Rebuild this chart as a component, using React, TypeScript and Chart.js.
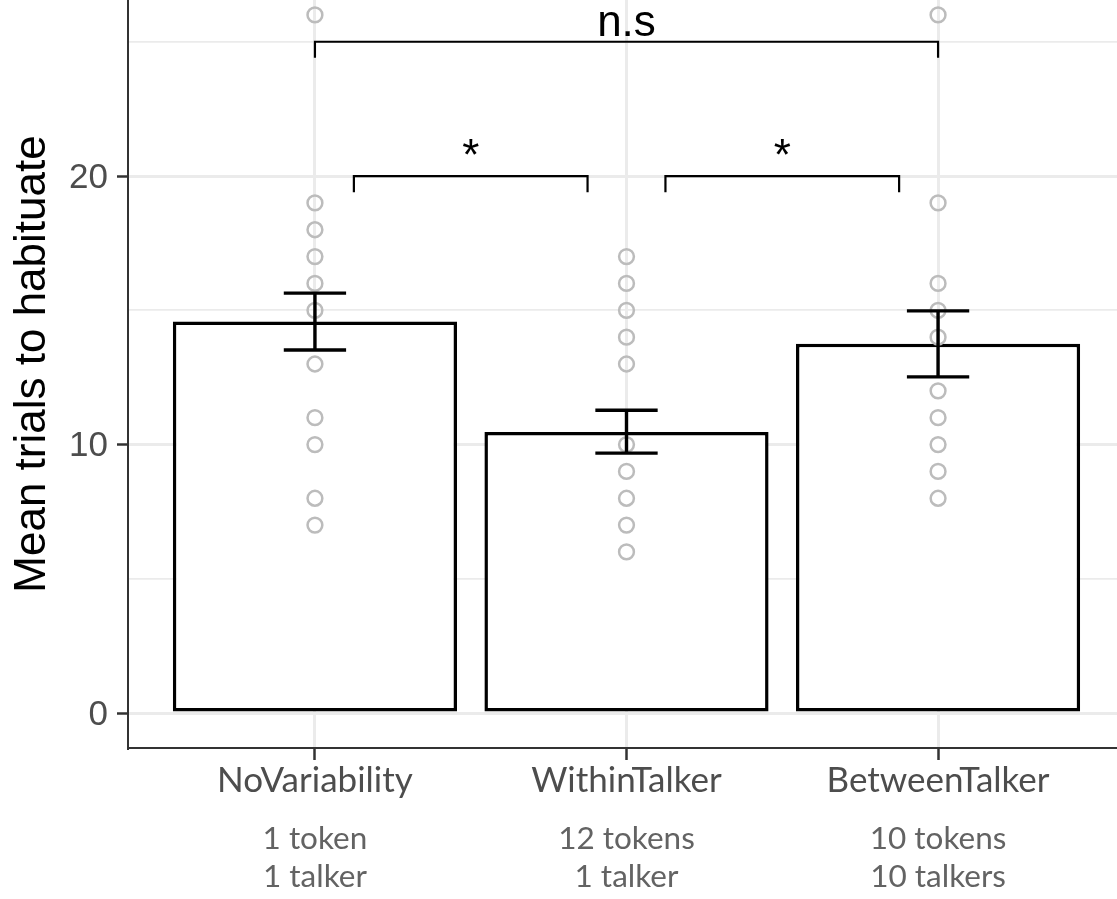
import React, { useEffect, useRef } from "react";
import { Chart, registerables } from "chart.js";

Chart.register(...registerables);

// ---- data ----
const categories = ["NoVariability", "WithinTalker", "BetweenTalker"];
const conditionDetails = [
  ["1 token", "1 talker"],
  ["12 tokens", "1 talker"],
  ["10 tokens", "10 talkers"],
];
const meanTrials = [14.58, 10.47, 13.75];
const errorLow = [13.52, 9.68, 12.52];
const errorHigh = [15.64, 11.28, 14.98];
const noVariabilityTrials = [26, 19, 18, 17, 16, 15, 13, 11, 10, 8, 7];
const withinTalkerTrials = [17, 16, 15, 14, 13, 10, 9, 8, 7, 6];
const betweenTalkerTrials = [26, 19, 16, 15, 14, 12, 11, 10, 9, 8];
const yTickValues = [0, 5, 10, 15, 20, 25];
const bracketStart = [0, 0.125, 1.125];
const bracketEnd = [2, 0.875, 1.875];
const bracketHeight = [25, 20, 20];
const bracketLabels = ["n.s", "*", "*"];
const tipLength = 0.6;
const errorCapHalfWidth = 0.1;

const CANVAS_W = 1140;
const CANVAS_H = 919;

const annotationsPlugin = {
  id: "annotations",
  afterDatasetsDraw(chart: any) {
    const { ctx } = chart;
    const x = chart.scales.x;
    const y = chart.scales.y;
    ctx.save();
    ctx.strokeStyle = "#000000";
    ctx.lineCap = "butt";
    ctx.lineWidth = 3.4;
    meanTrials.forEach((_, i) => {
      const cx = x.getPixelForValue(i);
      const x0 = x.getPixelForValue(i - errorCapHalfWidth);
      const x1 = x.getPixelForValue(i + errorCapHalfWidth);
      const yl = y.getPixelForValue(errorLow[i]);
      const yh = y.getPixelForValue(errorHigh[i]);
      ctx.beginPath();
      ctx.moveTo(cx, yl);
      ctx.lineTo(cx, yh);
      ctx.moveTo(x0, yl);
      ctx.lineTo(x1, yl);
      ctx.moveTo(x0, yh);
      ctx.lineTo(x1, yh);
      ctx.stroke();
    });
    ctx.lineWidth = 2.2;
    ctx.lineJoin = "miter";
    ctx.fillStyle = "#000000";
    ctx.font = '44px "Liberation Sans", Arial, sans-serif';
    ctx.textAlign = "center";
    ctx.textBaseline = "alphabetic";
    bracketLabels.forEach((label, i) => {
      const xa = x.getPixelForValue(bracketStart[i]);
      const xb = x.getPixelForValue(bracketEnd[i]);
      const yb = y.getPixelForValue(bracketHeight[i]);
      const yt = y.getPixelForValue(bracketHeight[i] - tipLength);
      ctx.beginPath();
      ctx.moveTo(xa, yt);
      ctx.lineTo(xa, yb);
      ctx.lineTo(xb, yb);
      ctx.lineTo(xb, yt);
      ctx.stroke();
      ctx.fillText(label, (xa + xb) / 2, yb - 6);
    });
    ctx.restore();
  },
};

const categoryTicks = (scale: any) => {
  scale.ticks = categories.map((_, i) => ({ value: i }));
};

export default function App() {
  const canvasRef = useRef<HTMLCanvasElement | null>(null);

  useEffect(() => {
    if (!canvasRef.current) return;
    const points = [noVariabilityTrials, withinTalkerTrials, betweenTalkerTrials].flatMap(
      (arr, i) => arr.map((v) => ({ x: i, y: v }))
    );
    const chart = new Chart(canvasRef.current, {
      type: "bar",
      data: {
        datasets: [
          {
            type: "bar",
            data: meanTrials.map((v, i) => ({ x: i, y: v })),
            backgroundColor: "#ffffff",
            borderColor: "#000000",
            borderWidth: 3.5,
            borderSkipped: false,
            barPercentage: 0.912,
            categoryPercentage: 1,
            order: 2,
          } as any,
          {
            type: "scatter",
            data: points,
            pointStyle: "circle",
            pointRadius: 7.4,
            pointBorderWidth: 2.5,
            pointBorderColor: "#bcbcbc",
            pointBackgroundColor: "rgba(0,0,0,0)",
            order: 1,
          } as any,
        ],
      },
      options: {
        responsive: false,
        animation: false,
        events: [],
        layout: { autoPadding: false, padding: { left: 0, top: 0, right: 15, bottom: 0 } },
        plugins: {
          legend: { display: false },
          tooltip: { enabled: false },
        },
        scales: {
          x: {
            type: "linear",
            position: "bottom",
            min: -0.6,
            max: 2.6,
            offset: false,
            weight: 0,
            afterBuildTicks: categoryTicks,
            afterFit: (scale: any) => {
              scale.height = 62;
              scale.paddingLeft = 0;
              scale.paddingRight = 0;
            },
            grid: {
              offset: false,
              color: "#ebebeb",
              lineWidth: 3,
              tickColor: "#333333",
              tickLength: 12,
              tickWidth: 2.5,
            },
            border: { display: true, color: "#333333", width: 2 },
            ticks: {
              autoSkip: false,
              maxRotation: 0,
              padding: 0,
              color: "#4d4d4d",
              font: { family: "Lato", size: 35 },
              callback: (_v: any, index: number) => categories[index],
            },
          },
          x2: {
            type: "linear",
            position: "bottom",
            min: -0.6,
            max: 2.6,
            offset: false,
            weight: 1,
            afterBuildTicks: categoryTicks,
            afterFit: (scale: any) => {
              scale.height = CANVAS_H - 768 - 62;
              scale.paddingLeft = 0;
              scale.paddingRight = 0;
            },
            grid: { display: false, drawTicks: false, offset: false },
            border: { display: false },
            ticks: {
              autoSkip: false,
              maxRotation: 0,
              padding: 9.5,
              color: "#636363",
              font: { family: "Lato", size: 31.5, lineHeight: 1.22 },
              callback: (_v: any, index: number) => conditionDetails[index],
            },
          },
          y: {
            type: "linear",
            min: -1.3,
            max: 27.3,
            afterBuildTicks: (scale: any) => {
              scale.ticks = yTickValues.map((v) => ({ value: v }));
            },
            afterFit: (scale: any) => {
              scale.width = 128;
              scale.paddingTop = 0;
              scale.paddingBottom = 0;
            },
            grid: {
              color: "#ebebeb",
              lineWidth: (ctx: any) => (ctx.tick && ctx.tick.value % 10 === 0 ? 3 : 1.7),
              tickColor: (ctx: any) =>
                ctx.tick && ctx.tick.value % 10 === 0 ? "#333333" : "rgba(0,0,0,0)",
              tickLength: 11,
              tickWidth: 2.5,
            },
            border: { display: true, color: "#333333", width: 2 },
            ticks: {
              padding: 9,
              labelOffset: 2,
              color: "#4d4d4d",
              font: { family: "Liberation Sans", size: 35 },
              callback: (v: any) => (Number(v) % 10 === 0 ? String(v) : ""),
            },
            title: {
              display: true,
              text: "Mean trials to habituate",
              color: "#000000",
              font: { family: "Liberation Sans", size: 44 },
              padding: { top: 6, bottom: 0 },
            },
          },
        },
      } as any,
      plugins: [annotationsPlugin],
    });
    return () => chart.destroy();
  }, []);

  return (
    <div
      style={{
        position: "fixed",
        left: 0,
        top: 0,
        width: 1117,
        height: 899,
        overflow: "hidden",
        background: "#ffffff",
      }}
    >
      <canvas
        ref={canvasRef}
        width={CANVAS_W}
        height={CANVAS_H}
        style={{ position: "absolute", left: 0, top: -20, width: CANVAS_W, height: CANVAS_H }}
      />
    </div>
  );
}
